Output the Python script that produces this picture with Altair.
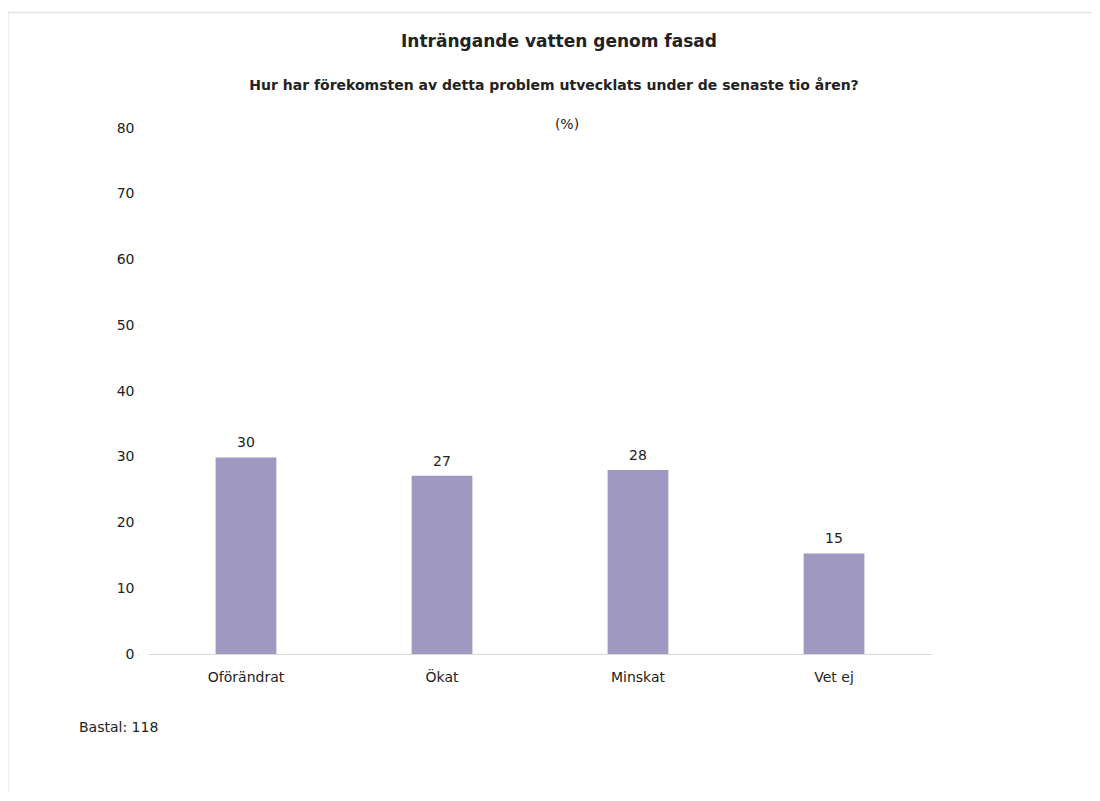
import altair as alt
import pandas as pd

# ---- data ----
categories = ["Oförändrat", "Ökat", "Minskat", "Vet ej"]
values = [29.9, 27.1, 28.0, 15.3]
y_ticks = [0, 10, 20, 30, 40, 50, 60, 70, 80]

title_text = "Inträngande vatten genom fasad"
subtitle_text = "Hur har förekomsten av detta problem utvecklats under de senaste tio åren?"
unit_text = "(%)"
base_text = "Bastal: 118"

FONT = "DejaVu Sans"
TXT = "#222222"
BAR = "#9f98c0"

df = pd.DataFrame({"kategori": categories, "procent": values})

W, H = 784, 526

x_enc = alt.X(
    "kategori:N",
    sort=categories,
    scale=alt.Scale(paddingInner=0.69, paddingOuter=0.345),
    axis=alt.Axis(
        title=None, labelAngle=0, ticks=False, domainColor="#d9d9d9",
        domainWidth=1, labelPadding=16, labelFontSize=14, labelColor=TXT,
        labelFont=FONT,
    ),
)
y_enc = alt.Y(
    "procent:Q",
    scale=alt.Scale(domain=[0, 80], nice=False),
    axis=alt.Axis(
        title=None, values=y_ticks, grid=False, domain=False, ticks=False,
        labelPadding=14, labelFontSize=14, labelColor=TXT, labelFont=FONT,
    ),
)

base = alt.Chart(df)
bars = base.mark_bar(color=BAR).encode(x=x_enc, y=y_enc)
labels = base.mark_text(
    baseline="bottom", dy=-7, fontSize=14, font=FONT, color=TXT
).encode(x=alt.X("kategori:N", sort=categories), y="procent:Q",
         text=alt.Text("procent:Q", format=".0f"))


def note(txt, x, y, size, bold=False, align="center", baseline="alphabetic"):
    return alt.Chart(pd.DataFrame({"t": [txt]})).mark_text(
        fontSize=size, font=FONT, color=TXT, align=align, baseline=baseline,
        fontWeight="bold" if bold else "normal",
    ).encode(text="t:N", x=alt.value(x), y=alt.value(y))


title = note(title_text, 411, -81, 17, bold=True)
subtitle = note(subtitle_text, 406, -38, 14, bold=True)
unit = note(unit_text, 419, -3, 14, baseline="middle")
bastal = note(base_text, -69, 600, 14, align="left", baseline="middle")

frame_top = alt.Chart(pd.DataFrame({"a": [0]})).mark_rule(
    color="#e4e4e4", strokeWidth=1.5
).encode(x=alt.value(-140), x2=alt.value(960), y=alt.value(-115.5))
frame_left = alt.Chart(pd.DataFrame({"a": [0]})).mark_rule(
    color="#e4e4e4", strokeWidth=1.5
).encode(x=alt.value(-140), y=alt.value(-115.5), y2=alt.value(700))

chart = alt.layer(
    frame_top, frame_left, bars, labels, title, subtitle, unit, bastal
).properties(
    width=W, height=H,
    autosize=alt.AutoSizeParams(type="none"),
    padding={"left": 140, "top": 120, "right": 160, "bottom": 139},
    background="white",
).configure_view(stroke=None)

chart.save("out.html", embed_options={"renderer": "svg", "actions": False})
